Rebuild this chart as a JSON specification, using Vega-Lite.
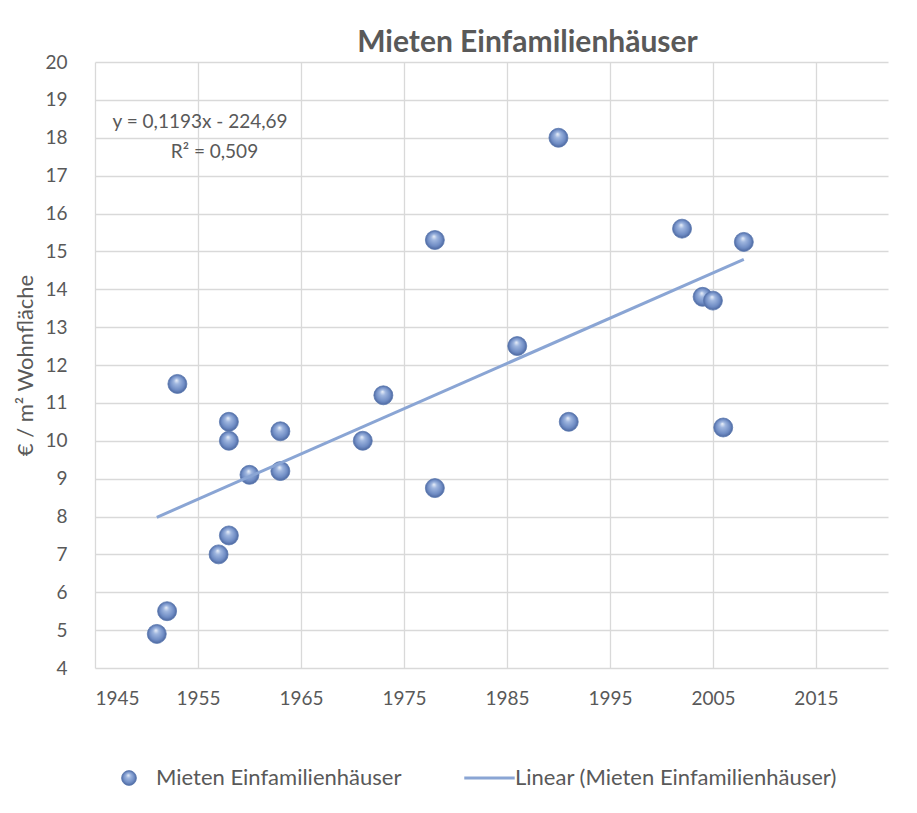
{
  "$schema": "https://vega.github.io/schema/vega-lite/v6.json",
  "width": 793,
  "height": 606,
  "autosize": "none",
  "padding": {"left": 95, "top": 62, "right": 29, "bottom": 145},
  "background": "white",
  "config": {
    "font": "Lato",
    "view": {"stroke": null},
    "axis": {
      "labelFont": "Lato",
      "labelFontSize": 19,
      "labelColor": "#595959",
      "gridColor": "#d9d9d9",
      "gridWidth": 1.3,
      "domain": false,
      "ticks": false,
      "titleFont": "Lato",
      "titleFontSize": 22,
      "titleFontWeight": "normal",
      "titleColor": "#595959"
    },
    "legend": {"labelFont": "Lato", "labelFontSize": 22, "labelColor": "#595959", "labelLimit": 0}
  },
  "title": {
    "text": "Mieten Einfamilienhäuser",
    "fontSize": 30,
    "fontWeight": "bold",
    "color": "#595959",
    "font": "Lato",
    "anchor": "middle",
    "frame": "group",
    "dx": 36,
    "offset": -5
  },
  "data": {
    "values": [
      {"year": 1951, "value": 4.9},
      {"year": 1952, "value": 5.5},
      {"year": 1953, "value": 11.5},
      {"year": 1957, "value": 7.0},
      {"year": 1958, "value": 7.5},
      {"year": 1958, "value": 10.0},
      {"year": 1958, "value": 10.5},
      {"year": 1960, "value": 9.1},
      {"year": 1963, "value": 9.2},
      {"year": 1963, "value": 10.25},
      {"year": 1971, "value": 10.0},
      {"year": 1973, "value": 11.2},
      {"year": 1978, "value": 15.3},
      {"year": 1978, "value": 8.75},
      {"year": 1986, "value": 12.5},
      {"year": 1990, "value": 18.0},
      {"year": 1991, "value": 10.5},
      {"year": 2002, "value": 15.6},
      {"year": 2004, "value": 13.8},
      {"year": 2005, "value": 13.7},
      {"year": 2006, "value": 10.35},
      {"year": 2008, "value": 15.25}
    ]
  },
  "encoding": {
    "x": {
      "field": "year",
      "type": "quantitative",
      "scale": {"domain": [1945, 2022], "nice": false, "zero": false},
      "axis": {
        "title": null,
        "values": [1945, 1955, 1965, 1975, 1985, 1995, 2005, 2015],
        "format": "d",
        "labelPadding": 21
      }
    },
    "y": {
      "field": "value",
      "type": "quantitative",
      "scale": {"domain": [4, 20], "nice": false, "zero": false},
      "axis": {
        "title": "€ / m² Wohnfläche",
        "values": [4, 5, 6, 7, 8, 9, 10, 11, 12, 13, 14, 15, 16, 17, 18, 19, 20],
        "labelPadding": 28,
        "titlePadding": 7
      }
    }
  },
  "layer": [
    {
      "mark": {
        "type": "point",
        "filled": true,
        "opacity": 1,
        "size": 360,
        "strokeWidth": 0.8,
        "fill": {
          "gradient": "radial",
          "x1": 0.45, "y1": 0.3, "r1": 0,
          "x2": 0.5, "y2": 0.5, "r2": 0.5,
          "stops": [
            {"offset": 0, "color": "#eef3fb"},
            {"offset": 0.3, "color": "#9fb6df"},
            {"offset": 0.75, "color": "#6f8cc4"},
            {"offset": 1, "color": "#4d68a0"}
          ]
        }
      },
      "encoding": {
        "stroke": {
          "datum": "Mieten Einfamilienhäuser",
          "scale": {
            "domain": ["Mieten Einfamilienhäuser", "Linear (Mieten Einfamilienhäuser)"],
            "range": ["#5b78b0", "#8aa5d4"]
          },
          "legend": {
            "title": null,
            "orient": "none",
            "legendX": 23,
            "legendY": 705,
            "direction": "horizontal",
            "labelOffset": 16,
            "columnPadding": 56,
            "padding": 0,
            "encoding": {
              "symbols": {
                "shape": {"value": {"expr": "datum.value === 'Linear (Mieten Einfamilienhäuser)' ? 'M-3.2,0L3.6,0' : 'circle'"}},
                "size": {"value": 220},
                "strokeWidth": {"value": {"expr": "datum.value === 'Linear (Mieten Einfamilienhäuser)' ? 3 : 0.8"}},
                "opacity": {"value": 1},
                "fill": {"value": {
                  "gradient": "radial",
                  "x1": 0.45, "y1": 0.3, "r1": 0,
                  "x2": 0.5, "y2": 0.5, "r2": 0.5,
                  "stops": [
                    {"offset": 0, "color": "#eef3fb"},
                    {"offset": 0.3, "color": "#9fb6df"},
                    {"offset": 0.75, "color": "#6f8cc4"},
                    {"offset": 1, "color": "#4d68a0"}
                  ]
                }}
              }
            }
          }
        }
      }
    },
    {
      "mark": {"type": "line", "strokeWidth": 3},
      "transform": [{"regression": "value", "on": "year"}],
      "encoding": {
        "stroke": {"datum": "Linear (Mieten Einfamilienhäuser)"}
      }
    },
    {
      "data": {"values": [
        {"label": "y = 0,1193x - 224,69", "lx": 1955.2, "ly": 18.41},
        {"label": "R² = 0,509", "lx": 1956.6, "ly": 17.62}
      ]},
      "mark": {"type": "text", "fontSize": 19, "fontWeight": "normal", "fill": "#595959", "align": "center", "baseline": "middle", "font": "Lato"},
      "encoding": {
        "x": {"field": "lx", "type": "quantitative"},
        "y": {"field": "ly", "type": "quantitative"},
        "text": {"field": "label"}
      }
    }
  ]
}
